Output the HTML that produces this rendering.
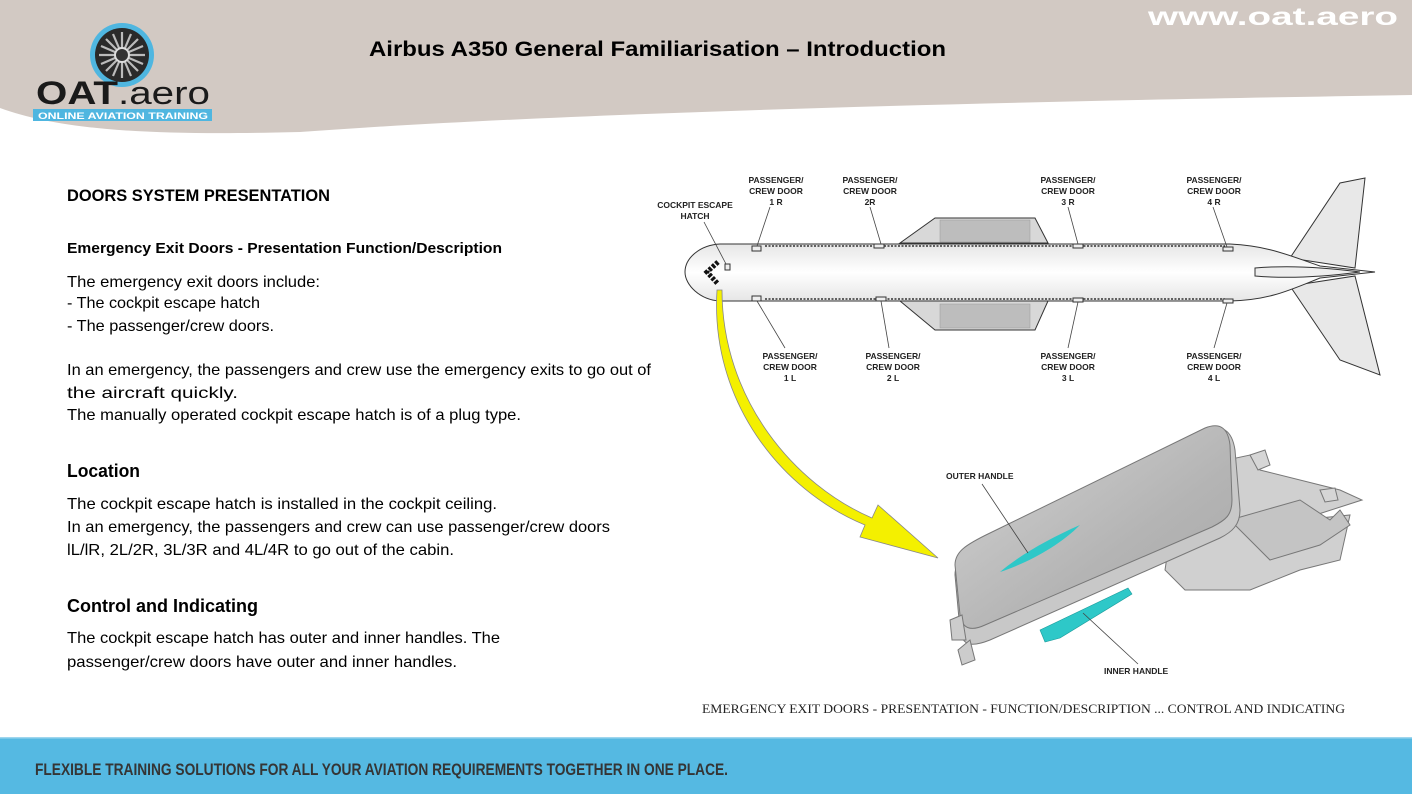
<!DOCTYPE html>
<html><head><meta charset="utf-8"><style>
html,body{margin:0;padding:0;background:#fff;}
svg{display:block}
</style></head><body>
<svg width="1412" height="794" viewBox="0 0 1412 794" xmlns="http://www.w3.org/2000/svg">
<defs>
<linearGradient id="fus" x1="0" y1="0" x2="0" y2="1">
<stop offset="0" stop-color="#e6e6e6"/><stop offset="0.5" stop-color="#ffffff"/><stop offset="1" stop-color="#e6e6e6"/>
</linearGradient>
<linearGradient id="hat" x1="0" y1="0" x2="1" y2="1">
<stop offset="0" stop-color="#d4d4d4"/><stop offset="0.6" stop-color="#b4b4b4"/><stop offset="1" stop-color="#a8a8a8"/>
</linearGradient>
</defs>
<!-- header -->
<path d="M0,0 H1412 V95 C1100,100 600,110 300,132 C150,136 60,130 0,108 Z" fill="#d2c9c3"/>
<text x="1148" y="25" font-family="Liberation Sans, sans-serif" font-weight="bold" font-size="25" fill="#fff" textLength="250" lengthAdjust="spacingAndGlyphs">www.oat.aero</text>
<text x="369" y="56" font-family="Liberation Sans, sans-serif" font-weight="bold" font-size="21" fill="#000" textLength="577" lengthAdjust="spacingAndGlyphs">Airbus A350 General Familiarisation – Introduction</text>
<!-- logo -->
<circle cx="122" cy="55" r="32" fill="#4fb6e0"/>
<circle cx="122" cy="55" r="27" fill="#2a2a2a"/>
<g stroke="#bbb" stroke-width="2.2">
<line x1="122" y1="32" x2="122" y2="78"/><line x1="99" y1="55" x2="145" y2="55"/>
<line x1="106" y1="39" x2="138" y2="71"/><line x1="138" y1="39" x2="106" y2="71"/>
<line x1="113" y1="34" x2="131" y2="76"/><line x1="131" y1="34" x2="113" y2="76"/>
<line x1="101" y1="46" x2="143" y2="64"/><line x1="143" y1="46" x2="101" y2="64"/>
</g>
<circle cx="122" cy="55" r="7" fill="#333" stroke="#ddd" stroke-width="2"/>
<text x="36" y="104" font-family="Liberation Sans, sans-serif" font-weight="bold" font-size="32" fill="#1a1a1a" textLength="82" lengthAdjust="spacingAndGlyphs">OAT</text>
<text x="118" y="104" font-family="Liberation Sans, sans-serif" font-size="32" fill="#1a1a1a" textLength="92" lengthAdjust="spacingAndGlyphs">.aero</text>
<rect x="33" y="109" width="179" height="12" fill="#4fb6e0"/>
<text x="38" y="119" font-family="Liberation Sans, sans-serif" font-weight="bold" font-size="9" fill="#fff" textLength="170" lengthAdjust="spacingAndGlyphs">ONLINE AVIATION TRAINING</text>

<!-- left text -->
<g font-family="Liberation Sans, sans-serif" fill="#000">
<text x="67" y="201" font-weight="bold" font-size="17" textLength="263" lengthAdjust="spacingAndGlyphs">DOORS SYSTEM PRESENTATION</text>
<text x="67" y="253" font-weight="bold" font-size="15" textLength="435" lengthAdjust="spacingAndGlyphs">Emergency Exit Doors - Presentation Function/Description</text>
<g font-size="16">
<text x="67" y="287" textLength="253" lengthAdjust="spacingAndGlyphs">The emergency exit doors include:</text>
<text x="67" y="308" textLength="193" lengthAdjust="spacingAndGlyphs">- The cockpit escape hatch</text>
<text x="67" y="331" textLength="207" lengthAdjust="spacingAndGlyphs">- The passenger/crew doors.</text>
<text x="67" y="375" textLength="584" lengthAdjust="spacingAndGlyphs">In an emergency, the passengers and crew use the emergency exits to go out of</text>
<text x="67" y="398" textLength="171" lengthAdjust="spacingAndGlyphs">the aircraft quickly.</text>
<text x="67" y="420" textLength="454" lengthAdjust="spacingAndGlyphs">The manually operated cockpit escape hatch is of a plug type.</text>
<text x="67" y="509" textLength="430" lengthAdjust="spacingAndGlyphs">The cockpit escape hatch is installed in the cockpit ceiling.</text>
<text x="67" y="532" textLength="543" lengthAdjust="spacingAndGlyphs">In an emergency, the passengers and crew can use passenger/crew doors</text>
<text x="67" y="555" textLength="387" lengthAdjust="spacingAndGlyphs">lL/lR, 2L/2R, 3L/3R and 4L/4R to go out of the cabin.</text>
<text x="67" y="643" textLength="433" lengthAdjust="spacingAndGlyphs">The cockpit escape hatch has outer and inner handles. The</text>
<text x="67" y="667" textLength="390" lengthAdjust="spacingAndGlyphs">passenger/crew doors have outer and inner handles.</text>
</g>
<text x="67" y="477" font-weight="bold" font-size="18" textLength="73" lengthAdjust="spacingAndGlyphs">Location</text>
<text x="67" y="612" font-weight="bold" font-size="18" textLength="191" lengthAdjust="spacingAndGlyphs">Control and Indicating</text>
</g>

<!-- aircraft -->
<g stroke="#333" stroke-width="1" fill="#e8e8e8">
<path d="M900,243 L935,218 L1035,218 L1048,243 Z" fill="#d8d8d8"/>
<path d="M900,301 L935,330 L1035,330 L1048,301 Z" fill="#d8d8d8"/>
<path d="M1290,258 L1340,183 L1365,178 L1355,268 Z"/>
<path d="M1290,286 L1340,360 L1380,375 L1355,276 Z"/>
<path d="M720,244 H1230 C1270,246 1290,256 1320,266 L1375,272 L1320,278 C1290,290 1270,300 1230,301 H720 C700,300 685,285 685,272 C685,258 700,245 720,244 Z" fill="url(#fus)"/>
<path d="M1255,268 C1290,265 1330,268 1360,272 C1330,276 1290,279 1255,276 Z" fill="#eee"/>
</g>
<rect x="940" y="220" width="90" height="22" fill="#bdbdbd" stroke="#999" stroke-width="0.5"/>
<rect x="940" y="304" width="90" height="24" fill="#bdbdbd" stroke="#999" stroke-width="0.5"/>
<g stroke="#333" stroke-width="1.5" stroke-dasharray="2,1.5">
<line x1="765" y1="246" x2="1225" y2="246"/><line x1="765" y1="299" x2="1225" y2="299"/>
</g>
<path d="M718,262 L707,272 L718,284" stroke="#111" stroke-width="5" fill="none" stroke-dasharray="3,1.5"/>
<g fill="#eee" stroke="#333" stroke-width="1">
<rect x="752" y="246" width="9" height="5"/><rect x="874" y="244" width="10" height="4"/><rect x="1073" y="244" width="10" height="4"/><rect x="1223" y="247" width="10" height="4"/>
<rect x="752" y="296" width="9" height="5"/><rect x="876" y="297" width="10" height="4"/><rect x="1073" y="298" width="10" height="4"/><rect x="1223" y="299" width="10" height="4"/>
<rect x="725" y="264" width="5" height="6"/>
</g>
<g stroke="#444" stroke-width="0.8">
<line x1="704" y1="222" x2="726" y2="264"/>
<line x1="770" y1="207" x2="757" y2="246"/><line x1="870" y1="207" x2="881" y2="244"/>
<line x1="1068" y1="207" x2="1078" y2="244"/><line x1="1213" y1="207" x2="1227" y2="247"/>
<line x1="757" y1="301" x2="785" y2="348"/><line x1="881" y1="301" x2="889" y2="348"/>
<line x1="1078" y1="302" x2="1068" y2="348"/><line x1="1227" y1="303" x2="1214" y2="348"/>
</g>
<g font-family="Liberation Sans, sans-serif" font-weight="bold" font-size="8.5" fill="#222" text-anchor="middle">
<text x="695" y="208">COCKPIT ESCAPE</text><text x="695" y="219">HATCH</text>
<text x="776" y="183">PASSENGER/</text><text x="776" y="194">CREW DOOR</text><text x="776" y="205">1 R</text>
<text x="870" y="183">PASSENGER/</text><text x="870" y="194">CREW DOOR</text><text x="870" y="205">2R</text>
<text x="1068" y="183">PASSENGER/</text><text x="1068" y="194">CREW DOOR</text><text x="1068" y="205">3 R</text>
<text x="1214" y="183">PASSENGER/</text><text x="1214" y="194">CREW DOOR</text><text x="1214" y="205">4 R</text>
<text x="790" y="359">PASSENGER/</text><text x="790" y="370">CREW DOOR</text><text x="790" y="381">1 L</text>
<text x="893" y="359">PASSENGER/</text><text x="893" y="370">CREW DOOR</text><text x="893" y="381">2 L</text>
<text x="1068" y="359">PASSENGER/</text><text x="1068" y="370">CREW DOOR</text><text x="1068" y="381">3 L</text>
<text x="1214" y="359">PASSENGER/</text><text x="1214" y="370">CREW DOOR</text><text x="1214" y="381">4 L</text>
</g>
<!-- yellow arrow -->
<path d="M717,290 C710,400 780,490 865,525 L860,537 L938,558 L878,505 L872,518 C795,485 722,400 722,290 Z" fill="#f4f000" stroke="#888" stroke-width="0.8"/>

<!-- hatch -->
<g stroke="#777" stroke-width="1">
<path d="M1180,470 L1250,455 L1260,470 L1340,490 L1362,500 L1300,520 L1350,515 L1340,560 L1300,570 L1250,590 L1185,590 L1165,570 Z" fill="#d0d0d0"/>
<path d="M1230,520 L1300,500 L1330,520 L1340,510 L1350,525 L1320,545 L1270,560 Z" fill="#c4c4c4"/>
<path d="M1250,455 L1265,450 L1270,465 L1258,470 Z M1320,490 L1335,488 L1338,500 L1325,502 Z" fill="#d6d6d6"/>
<path d="M955,575 C955,560 965,552 990,540 L1205,430 C1222,424 1232,430 1235,450 L1240,510 C1240,525 1232,532 1220,538 L990,640 C970,648 962,645 960,630 Z" fill="#c8c8c8"/>
<path d="M955,565 C955,552 965,545 990,533 L1205,428 C1220,422 1228,428 1230,445 L1232,500 C1232,515 1226,520 1212,527 L985,625 C970,632 962,628 960,615 Z" fill="url(#hat)"/>
<path d="M950,620 L962,615 L966,640 L952,640 Z M958,650 L970,640 L975,660 L962,665 Z" fill="#ccc"/>
</g>
<path d="M1000,572 C1020,555 1050,538 1080,525 C1060,545 1030,562 1000,572 Z" fill="#2ec8c8"/>
<path d="M1040,630 L1128,588 L1132,594 L1060,638 L1045,642 Z" fill="#2ec8c8" stroke="#1a9a9a" stroke-width="0.6"/>
<g stroke="#444" stroke-width="0.8"><line x1="982" y1="484" x2="1028" y2="553"/><line x1="1083" y1="613" x2="1138" y2="664"/></g>
<g font-family="Liberation Sans, sans-serif" font-weight="bold" font-size="8.5" fill="#222">
<text x="946" y="479">OUTER HANDLE</text>
<text x="1104" y="674">INNER HANDLE</text>
</g>
<text x="702" y="713" font-family="Liberation Serif, serif" font-size="13" fill="#222" textLength="643" lengthAdjust="spacingAndGlyphs">EMERGENCY EXIT DOORS - PRESENTATION - FUNCTION/DESCRIPTION ... CONTROL AND INDICATING</text>

<!-- footer -->
<rect x="0" y="737" width="1412" height="57" fill="#55b9e2"/>
<rect x="0" y="737" width="1412" height="1.5" fill="#9fd6ee"/>
<text x="35" y="775" font-family="Liberation Sans Narrow, Liberation Sans, sans-serif" font-weight="bold" font-size="17" fill="#353535" textLength="693" lengthAdjust="spacingAndGlyphs">FLEXIBLE TRAINING SOLUTIONS FOR ALL YOUR AVIATION REQUIREMENTS TOGETHER IN ONE PLACE.</text>
</svg>
</body></html>
